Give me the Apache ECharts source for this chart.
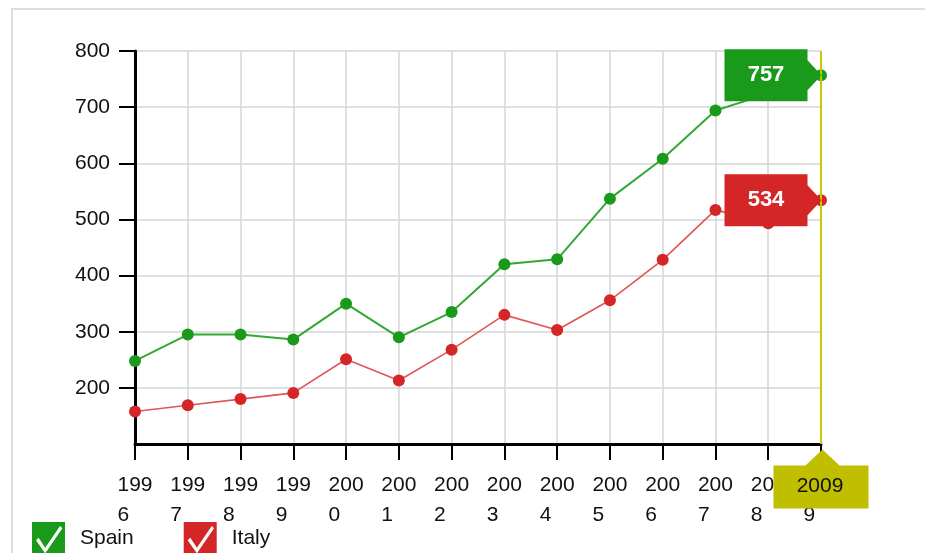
<!DOCTYPE html>
<html>
<head>
<meta charset="utf-8">
<script src="https://cdn.jsdelivr.net/npm/echarts@6/dist/echarts.min.js"></script>
<style>
html,body{margin:0;padding:0;background:#fff;}
#chart{width:925px;height:553px;}
</style>
</head>
<body>
<div id="chart"></div>
<script>
const years = ['1996','1997','1998','1999','2000','2001','2002','2003','2004','2005','2006','2007','2008','2009'];
const spain = [248, 295, 295, 286, 350, 290, 335, 420, 429, 537, 608, 694, 724, 757];
const italy = [158, 169, 180, 191, 251, 213, 268, 330, 303, 356, 428, 517, 493, 534];
const seriesNames = ['Spain', 'Italy'];
const yMin = 100, yMax = 800, yStep = 100;

const FONT = 'Liberation Sans';
const GREEN = '#1a9a1a', RED = '#d42626', OLIVE = '#bfbf00';
const lastYear = years[years.length - 1];

const checkIcon = 'path://M0 0 L100 0 L100 100 L0 100 Z M12 55 L40 95 L92 19 L85 12 L40 78 L20 48 Z';
const tagPath = 'path://M0 0 L83 0 L83 11 L97 26 L83 41 L83 52 L0 52 Z';
const axisTagPath = 'path://M49 0 L66 16 L95 16 L95 59 L0 59 L0 16 L32 16 Z';

function valueTag(val, color) {
  return {
    coord: [lastYear, val],
    value: val,
    symbol: tagPath,
    symbolSize: [97, 52],
    symbolOffset: [-48, 0],
    itemStyle: { color: color },
    label: {
      show: true, position: 'inside', offset: [-7, 0],
      color: '#fff', fontFamily: FONT, fontWeight: 'bold', fontSize: 22
    }
  };
}

const chart = echarts.init(document.getElementById('chart'));
chart.setOption({
  animation: false,
  backgroundColor: '#fff',
  graphic: [{
    type: 'rect', z: -10, silent: true,
    shape: { x: 12, y: 9, width: 1000, height: 1000 },
    style: { fill: 'none', stroke: '#dedede', lineWidth: 2 }
  }],
  grid: { left: 135, right: 104, top: 51, bottom: 109 },
  legend: {
    left: 32, top: 522, padding: 0,
    itemWidth: 33, itemHeight: 33, itemGap: 50,
    selectedMode: false,
    textStyle: { fontFamily: FONT, fontSize: 21, color: '#111', padding: [6, 0, 0, 10] },
    data: [
      { name: seriesNames[0], icon: checkIcon, itemStyle: { color: GREEN } },
      { name: seriesNames[1], icon: checkIcon, itemStyle: { color: RED } }
    ]
  },
  xAxis: {
    type: 'category',
    data: years,
    boundaryGap: false,
    axisLine: { lineStyle: { color: '#000', width: 3 } },
    axisTick: { show: true, length: 16, lineStyle: { color: '#000', width: 2 } },
    splitLine: { show: true, lineStyle: { color: '#d6d6d6', width: 1.5 } },
    axisLabel: {
      margin: 26, interval: 0,
      fontFamily: FONT, fontSize: 21, color: '#111', lineHeight: 30,
      formatter: function (v) { return '{a|' + v.slice(0, 3) + '}\n{a|' + v.slice(3) + '}'; },
      rich: { a: { align: 'left', fontFamily: FONT, fontSize: 21, color: '#111', lineHeight: 30 } }
    }
  },
  yAxis: {
    type: 'value',
    min: yMin, max: yMax, interval: yStep,
    axisLine: { show: true, lineStyle: { color: '#000', width: 3 } },
    axisTick: { show: true, length: 16, lineStyle: { color: '#000', width: 2 } },
    splitLine: { show: true, lineStyle: { color: '#d6d6d6', width: 1.5 } },
    axisLabel: { showMinLabel: false, margin: 25, fontFamily: FONT, fontSize: 21, color: '#111' }
  },
  series: [
    {
      name: seriesNames[0], type: 'line', data: spain,
      symbol: 'circle', symbolSize: 12,
      itemStyle: { color: GREEN },
      lineStyle: { color: '#33a833', width: 2 },
      z: 3,
      markLine: {
        silent: true, symbol: ['none', 'none'],
        label: { show: false },
        lineStyle: { color: '#c8c800', width: 2, type: 'solid' },
        data: [{ xAxis: lastYear }]
      },
      markPoint: {
        silent: true,
        data: [
          valueTag(spain[spain.length - 1], GREEN),
          {
            coord: [lastYear, yMin],
            value: lastYear,
            symbol: axisTagPath,
            symbolSize: [95, 59],
            symbolOffset: [0, 35],
            itemStyle: { color: OLIVE },
            label: {
              show: true, position: 'inside', offset: [-1, 7],
              color: '#111', fontFamily: FONT, fontSize: 21
            }
          }
        ]
      }
    },
    {
      name: seriesNames[1], type: 'line', data: italy,
      symbol: 'circle', symbolSize: 12,
      itemStyle: { color: RED },
      lineStyle: { color: '#e05555', width: 1.6 },
      z: 3,
      markPoint: {
        silent: true,
        data: [valueTag(italy[italy.length - 1], RED)]
      }
    }
  ]
});
</script>
</body>
</html>
